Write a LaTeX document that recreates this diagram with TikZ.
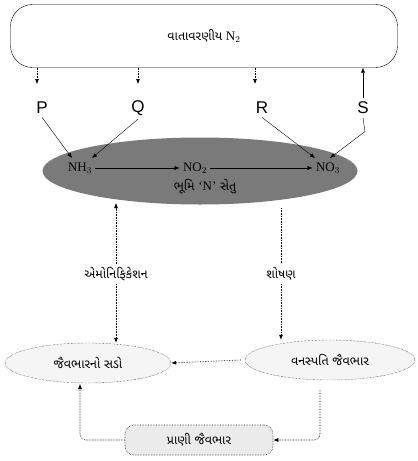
\documentclass[tikz,border=0pt]{standalone}
\usepackage{fontspec}
\setmainfont{Liberation Serif}
\setsansfont{Liberation Sans}
\newfontfamily\guj[Script=Gujarati]{Noto Sans Gujarati UI}
\usetikzlibrary{shapes.geometric, arrows.meta}

\tikzset{
  tip/.style={-{Latex[length=5pt,width=4pt]}},
  faint/.style={tip, densely dotted, semithick},
  plain/.style={tip, thin},
  letter/.style={font=\sffamily\fontsize{17}{17}\selectfont},
  chem/.style={font=\fontsize{13}{15}\selectfont},
  gtext/.style={font=\guj\fontsize{12.5}{14}\selectfont},
  pool/.style={ellipse, draw, densely dotted, fill=black!4, gtext}
}

\begin{document}
\begin{tikzpicture}[x=1pt,y=-1pt]
    \useasboundingbox (0,0) rectangle (418,461);
    \node[draw, thin, rounded corners=22pt, minimum width=387pt, minimum height=63pt, gtext] (atm) at (204,36) {વાતાવરણીય {\rmfamily\fontsize{13}{15}\selectfont N$_2$}};
    \node[letter] (P) at (42,108) {P};
    \node[letter] (Q) at (138,108) {Q};
    \node[letter] (R) at (262,108) {R};
    \node[letter] (S) at (363,108) {S};
    \node[ellipse, fill=black!52, minimum width=315pt, minimum height=67pt] (soil) at (200,171) {};
    \node[chem] (nh) at (80,168) {NH$_3$};
    \node[chem] (nob) at (195,168) {NO$_2$};
    \node[chem] (noc) at (328,168) {NO$_3$};
    \node[gtext, inner sep=0pt] (bridge) at (205,187) {ભૂમિ {\rmfamily\fontsize{13}{15}\selectfont `N'} સેતુ};
    \node[gtext] (amon) at (116,274) {એમોનિફિકેશન};
    \node[gtext] (shos) at (281,274) {શોષણ};
    \node[pool, minimum width=166pt, minimum height=40pt] (sado) at (88,363) {જૈવભારનો સડો};
    \node[pool, minimum width=170pt, minimum height=40pt] (vanas) at (330,360) {વનસ્પતિ જૈવભાર};
    \node[draw=black!80, densely dotted, semithick, fill=black!8, rounded corners=9pt, minimum width=148pt, minimum height=30pt, gtext] (prani) at (199,440) {પ્રાણી જૈવભાર};

    \draw[faint] (atm.south -| 37,0) -- (37,84);
    \draw[faint] (atm.south -| Q.north) -- (Q.north |- 0,84);
    \draw[faint] (atm.south -| 255,0) -- (255,84);
    \draw[plain] (S.north) -- (S.north |- atm.south);
    \draw[plain] (P.south) -- (72,158);
    \draw[plain] (Q.south) -- (92,158);
    \draw[plain] (R.south) -- (315,158);
    \draw[plain] (S.south) -- ++(2,14) -- (330,158);
    \draw[plain] (nh) -- (nob);
    \draw[plain] (nob) -- (noc);
    \draw[faint] (amon.north) -- (amon.north |- 0,203);
    \draw[faint] (amon.south) -- (amon.south |- sado.north);
    \draw[semithick, densely dotted] (shos.north |- 0,208) -- (shos.north);
    \draw[faint] (shos.south) -- (shos.south |- vanas.north);
    \draw[faint] (vanas.west) ++(-4,0) -- (sado.east);
    \draw[faint, rounded corners=6pt] (320,390) -- (320,440) -- (prani.east);
    \draw[faint, rounded corners=6pt] (prani.west) -- (80,440) -- (80,384);
\end{tikzpicture}
\end{document}
